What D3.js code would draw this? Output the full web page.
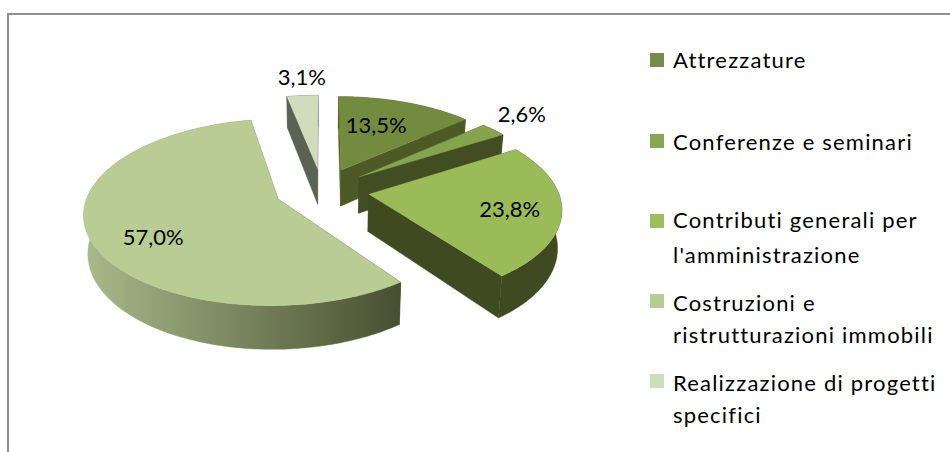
<!DOCTYPE html>
<html>
<head>
<meta charset="utf-8">
<script src="https://cdn.jsdelivr.net/npm/d3@7"></script>
<style>
html,body{margin:0;padding:0;background:#fff}
svg{display:block}
text{font-family:Lato,"Open Sans",sans-serif;fill:#000}
</style>
</head>
<body>
<svg id="chart" width="950" height="452"></svg>
<script>
// Data
const categories = ["Attrezzature", "Conferenze e seminari", "Contributi generali per l'amministrazione", "Costruzioni e ristrutturazioni immobili", "Realizzazione di progetti specifici"];
const values = [13.5, 2.6, 23.8, 57.0, 3.1];
const valueLabels = ["13,5%", "2,6%", "23,8%", "57,0%", "3,1%"];
const legendLines = [["Attrezzature"], ["Conferenze e seminari"], ["Contributi generali per", "l'amministrazione"], ["Costruzioni e", "ristrutturazioni immobili"], ["Realizzazione di progetti", "specifici"]];
const topColors = ["#738b3f", "#86a34d", "#9bbb59", "#b9cc93", "#d0dcbc"];
const sideColors = ["#4d5a26", "#434d24", "#3f4a20", "url(#bigSide)", "#5a6353"];
const legendColors = ["#768d47", "#8ba653", "#9fbd5e", "#b9cc93", "#d0dcbc"];

// Layout
const W = 950, H = 452;
const cx = 322, cy = 190, R = 189, tilt = 89 / 189, persp = 0.139, explode = 0.25, depth = 37, bottomShrink = 0.982;
const drawOrder = [4, 0, 1, 2, 3];
const labelPlace = [[0.78, -1, 1], [1.6, -14, 7], [0.98, 1, 10], [0.93, 1, 20], [1.53, 3, 7]];
const legendTop = [53, 134, 214, 294, 374];
const legendBase = [[68], [150], [228, 263], [311, 343], [391, 423]];

const svg = d3.select("#chart");
const defs = svg.append("defs");
const grad = defs.append("linearGradient").attr("id", "bigSide").attr("gradientUnits", "userSpaceOnUse")
  .attr("x1", 84).attr("x2", 400).attr("y1", 0).attr("y2", 0);
grad.append("stop").attr("offset", "0").attr("stop-color", "#a9ba8b");
grad.append("stop").attr("offset", "1").attr("stop-color", "#474f30");

// frame
const frame = d3.path();
frame.moveTo(8, H); frame.lineTo(8, 14); frame.lineTo(W, 14);
svg.append("path").attr("d", frame.toString()).attr("fill", "none").attr("stroke", "#8f8f8f").attr("stroke-width", 2);

const pie = d3.pie().sort(null).value(d => d).startAngle(0).endAngle(2 * Math.PI);
const arcs = pie(values);
const color = d3.scaleOrdinal().domain(d3.range(values.length)).range(topColors);
const side = d3.scaleOrdinal().domain(d3.range(values.length)).range(sideColors);
const line = d3.line().x(p => p[0]).y(p => p[1]);

function project(u, v) {
  const s = 1 + persp * v;
  return [cx + R * u / s, cy - R * tilt * v / s];
}
function lower(u, v) {
  const s = 1 + persp * v;
  const p = project(u, v);
  return [cx + (p[0] - cx) * bottomShrink, p[1] + depth / s];
}
const g = svg.append("g");
drawOrder.forEach(i => {
  const a = arcs[i];
  const mid = (a.startAngle + a.endAngle) / 2;
  const ox = explode * Math.sin(mid), oy = explode * Math.cos(mid);
  const n = Math.max(2, Math.ceil((a.endAngle - a.startAngle) / 0.02));
  const rim = d3.range(n + 1).map(k => {
    const t = a.startAngle + (a.endAngle - a.startAngle) * k / n;
    return [ox + Math.sin(t), oy + Math.cos(t)];
  });
  const apex = [ox, oy];
  const first = rim[0], last = rim[rim.length - 1];
  // radial walls
  [first, last].forEach(e => {
    const poly = [project(...apex), project(...e), lower(...e), lower(...apex)];
    g.append("path").attr("d", line(poly) + "Z").attr("fill", side(i)).attr("stroke", side(i)).attr("stroke-width", 0.4);
  });
  // rim wall
  const poly = rim.map(p => project(...p)).concat(rim.slice().reverse().map(p => lower(...p)));
  g.append("path").attr("d", line(poly) + "Z").attr("fill", side(i)).attr("stroke", side(i)).attr("stroke-width", 0.4);
  // top
  const top = [project(...apex)].concat(rim.map(p => project(...p)));
  g.append("path").attr("d", line(top) + "Z").attr("fill", color(i)).attr("stroke", color(i)).attr("stroke-width", 0.3);
});

// value labels
arcs.forEach((a, i) => {
  const mid = (a.startAngle + a.endAngle) / 2;
  const [r, dx, dy] = labelPlace[i];
  const p = project(r * Math.sin(mid), r * Math.cos(mid));
  svg.append("text").attr("x", p[0] + dx).attr("y", p[1] + dy).attr("text-anchor", "middle")
    .attr("font-size", 22).text(valueLabels[i]);
});

// legend
categories.forEach((c, i) => {
  svg.append("rect").attr("x", 650).attr("y", legendTop[i]).attr("width", 14).attr("height", 14).attr("fill", legendColors[i]);
  legendLines[i].forEach((t, j) => {
    svg.append("text").attr("x", 673).attr("y", legendBase[i][j]).attr("font-size", 22).attr("letter-spacing", 1.2).text(t);
  });
});
</script>
</body>
</html>
